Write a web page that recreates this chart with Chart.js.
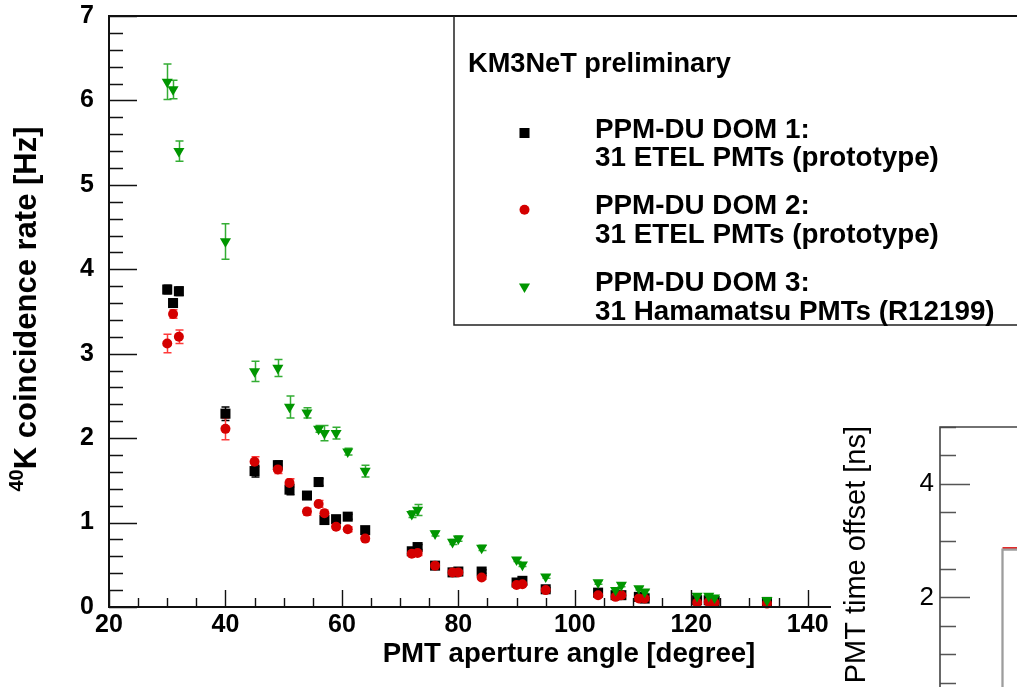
<!DOCTYPE html>
<html>
<head>
<meta charset="utf-8">
<title>40K coincidence rate vs PMT aperture angle</title>
<script src="https://cdn.jsdelivr.net/npm/chart.js@4.4.1/dist/chart.umd.min.js"></script>
<style>
  html, body { margin: 0; padding: 0; background: #fff; }
  body { width: 1017px; height: 687px; overflow: hidden; position: relative; }
  canvas { position: absolute; left: 0; top: 0; }
</style>
</head>
<body>
<canvas id="rateChart" width="1017" height="687"></canvas>
<canvas id="offsetChart" width="1600" height="760"></canvas>
<script>
// PMT pair aperture angles [degree]
const apertureAngles = [30, 31, 32, 40, 45, 49, 51, 54, 56, 57, 59, 61, 64, 72, 73, 76, 79, 80, 84, 90, 91, 95, 104, 107, 108, 111, 112, 121, 123, 124, 133];

// DOM 1 - ETEL prototype PMTs
const dom1Rates = [3.76, 3.60, 3.74, 2.29, 1.61, 1.68, 1.39, 1.32, 1.48, 1.03, 1.04, 1.07, 0.91, 0.66, 0.71, 0.49, 0.41, 0.42, 0.42, 0.29, 0.31, 0.21, 0.17, 0.14, 0.14, 0.12, 0.10, 0.08, 0.08, 0.07, 0.06];
const dom1Errors = [0.05, 0.05, 0.05, 0.08, 0.07, 0.05, 0.06, 0.04, 0.04, 0.04, 0.03, 0.03, 0.03, 0.03, 0.03, 0.02, 0.02, 0.02, 0.02, 0.02, 0.02, 0.02, 0.01, 0.01, 0.01, 0.01, 0.01, 0.01, 0.01, 0.01, 0.01];

// DOM 2 - ETEL prototype PMTs
const dom2Rates = [3.12, 3.47, 3.20, 2.11, 1.72, 1.63, 1.47, 1.13, 1.22, 1.11, 0.95, 0.92, 0.81, 0.63, 0.64, 0.49, 0.41, 0.41, 0.35, 0.26, 0.27, 0.20, 0.14, 0.12, 0.14, 0.10, 0.10, 0.05, 0.06, 0.05, 0.04];
const dom2Errors = [0.11, 0.05, 0.08, 0.13, 0.06, 0.05, 0.05, 0.04, 0.04, 0.04, 0.03, 0.03, 0.03, 0.03, 0.03, 0.02, 0.02, 0.02, 0.02, 0.02, 0.02, 0.02, 0.01, 0.01, 0.01, 0.01, 0.01, 0.01, 0.01, 0.01, 0.01];

// DOM 3 - Hamamatsu R12199
const dom3Rates = [6.22, 6.13, 5.40, 4.33, 2.79, 2.83, 2.37, 2.30, 2.11, 2.06, 2.06, 1.84, 1.61, 1.10, 1.15, 0.87, 0.77, 0.81, 0.70, 0.56, 0.50, 0.36, 0.29, 0.20, 0.26, 0.22, 0.18, 0.13, 0.13, 0.11, 0.08];
const dom3Errors = [0.21, 0.11, 0.12, 0.21, 0.12, 0.10, 0.13, 0.06, 0.04, 0.09, 0.07, 0.04, 0.07, 0.04, 0.065, 0.03, 0.03, 0.03, 0.03, 0.02, 0.02, 0.02, 0.02, 0.02, 0.02, 0.02, 0.02, 0.01, 0.01, 0.01, 0.01];

// time offset panel (only its first bins show up here)
const offsetBinEdges = [3, 3, 4];
const offsetGrey = [0, 2.84, 2.84];
const offsetRedEdges = [3, 4];
const offsetRed = [2.87, 2.87];

const FONT = "'Liberation Sans', Arial, Helvetica, sans-serif";

function toPoints(xs, ys) {
    return xs.map((x, i) => ({ x: x, y: ys[i] }));
}

// no extra room for the outer tick labels, the layout padding decides the frame
function fixAxisBox(size) {
    return s => {
        if (s.isHorizontal()) s.height = size; else s.width = size;
        s.paddingTop = 0; s.paddingBottom = 0;
        s.paddingLeft = 0; s.paddingRight = 0;
    };
}

// error bars with small caps, drawn under the markers
const errorBars = {
    id: 'errorBars',
    beforeDatasetsDraw(chart, args, opts) {
        const ctx = chart.ctx;
        const yScale = chart.scales.y;
        ctx.save();
        ctx.lineWidth = opts.lineWidth;
        chart.data.datasets.forEach((ds, i) => {
            if (!ds.errors) return;
            const meta = chart.getDatasetMeta(i);
            ctx.strokeStyle = ds.errorColor;
            ctx.beginPath();
            meta.data.forEach((pt, j) => {
                const v = ds.data[j].y;
                const e = ds.errors[j];
                const top = yScale.getPixelForValue(v + e);
                const bot = yScale.getPixelForValue(v - e);
                const x = Math.round(pt.x) + 0.5;
                ctx.moveTo(x, top); ctx.lineTo(x, bot);
                ctx.moveTo(x - opts.cap, top); ctx.lineTo(x + opts.cap, top);
                ctx.moveTo(x - opts.cap, bot); ctx.lineTo(x + opts.cap, bot);
            });
            ctx.stroke();
        });
        ctx.restore();
    }
};

// ticks pointing into the frame, major + minor
const rootTicks = {
    id: 'rootTicks',
    afterDatasetsDraw(chart, args, opts) {
        const { ctx, chartArea } = chart;
        ctx.save();
        ctx.strokeStyle = opts.color;
        ctx.lineWidth = opts.lineWidth;
        ctx.beginPath();
        opts.axes.forEach(ax => {
            const scale = chart.scales[ax.id];
            const first = Math.ceil(scale.min / ax.minor - 1e-9);
            const last = Math.floor(scale.max / ax.minor + 1e-9);
            for (let k = first; k <= last; k++) {
                const v = k * ax.minor;
                const isMajor = Math.abs(v / ax.major - Math.round(v / ax.major)) < 1e-6;
                const len = isMajor ? ax.majorLen : ax.minorLen;
                const p = Math.round(scale.getPixelForValue(v)) + 0.5;
                if (scale.isHorizontal()) {
                    ctx.moveTo(p, chartArea.bottom);
                    ctx.lineTo(p, chartArea.bottom - len);
                } else {
                    ctx.moveTo(chartArea.left, p);
                    ctx.lineTo(chartArea.left + len, p);
                }
            }
        });
        ctx.stroke();
        ctx.restore();
    }
};

// frame: top line runs to the canvas edge, left axis, optional bottom axis
const rootFrame = {
    id: 'rootFrame',
    afterDatasetsDraw(chart, args, opts) {
        const { ctx, chartArea } = chart;
        ctx.save();
        ctx.strokeStyle = opts.color;
        ctx.lineWidth = opts.lineWidth;
        ctx.beginPath();
        ctx.moveTo(chart.width, chartArea.top);
        ctx.lineTo(chartArea.left, chartArea.top);
        ctx.lineTo(chartArea.left, chartArea.bottom);
        if (opts.bottom) ctx.lineTo(chartArea.right, chartArea.bottom);
        ctx.stroke();
        ctx.restore();
    }
};

// free text (axis titles), optionally rotated, made of runs for superscripts
const rootText = {
    id: 'rootText',
    afterDraw(chart, args, opts) {
        const ctx = chart.ctx;
        opts.items.forEach(item => {
            ctx.save();
            ctx.translate(item.x, item.y);
            if (item.rotate) ctx.rotate(item.rotate * Math.PI / 180);
            ctx.fillStyle = item.color || '#000';
            ctx.textAlign = 'left';
            ctx.textBaseline = 'alphabetic';
            let total = 0;
            item.runs.forEach(r => {
                ctx.font = (r.weight || 'normal') + ' ' + r.size + 'px ' + FONT;
                r.w = ctx.measureText(r.text).width;
                total += r.w;
            });
            let x = item.align === 'center' ? -total / 2 : item.align === 'right' ? -total : 0;
            item.runs.forEach(r => {
                ctx.font = (r.weight || 'normal') + ' ' + r.size + 'px ' + FONT;
                ctx.fillText(r.text, x, -(r.rise || 0));
                x += r.w;
            });
            ctx.restore();
        });
    }
};

// legend box in the upper right corner
const rootLegend = {
    id: 'rootLegend',
    afterDraw(chart, args, opts) {
        const ctx = chart.ctx;
        ctx.save();
        ctx.strokeStyle = opts.borderColor;
        ctx.lineWidth = opts.borderWidth;
        ctx.beginPath();
        ctx.moveTo(opts.left, opts.top);
        ctx.lineTo(opts.left, opts.bottom);
        ctx.lineTo(chart.width, opts.bottom);
        ctx.stroke();

        ctx.fillStyle = '#000';
        ctx.textAlign = 'left';
        ctx.textBaseline = 'alphabetic';
        ctx.font = 'bold ' + opts.headerSize + 'px ' + FONT;
        ctx.fillText(opts.header, opts.headerX, opts.headerY);

        ctx.font = 'bold ' + opts.fontSize + 'px ' + FONT;
        chart.data.datasets.forEach((ds, i) => {
            const y0 = opts.firstRowY + i * opts.rowStep;
            ctx.fillStyle = ds.backgroundColor;
            Chart.helpers.drawPoint(ctx, {
                pointStyle: ds.pointStyle,
                radius: ds.pointRadius,
                rotation: ds.pointRotation || 0,
                borderWidth: 0
            }, opts.markerX, y0 + opts.markerDy);
            ctx.fillStyle = '#000';
            ctx.fillText(ds.label, opts.textX, y0);
            ctx.fillText(ds.caption, opts.textX, y0 + opts.lineStep);
        });
        ctx.restore();
    }
};

const clipRight = { left: 20, top: 20, right: 0, bottom: 20 };

const rateChart = new Chart(document.getElementById('rateChart').getContext('2d'), {
    type: 'scatter',
    data: {
        datasets: [{
            label: 'PPM-DU DOM 1:',
            caption: '31 ETEL PMTs (prototype)',
            data: toPoints(apertureAngles, dom1Rates),
            errors: dom1Errors,
            errorColor: '#000000',
            pointStyle: 'rect',
            pointRadius: 7.1,
            pointBorderWidth: 0,
            backgroundColor: '#000000',
            borderColor: '#000000',
            clip: clipRight,
            order: 2
        }, {
            label: 'PPM-DU DOM 2:',
            caption: '31 ETEL PMTs (prototype)',
            data: toPoints(apertureAngles, dom2Rates),
            errors: dom2Errors,
            errorColor: '#ff3a3a',
            pointStyle: 'circle',
            pointRadius: 5,
            pointBorderWidth: 0,
            backgroundColor: '#d40000',
            borderColor: '#d40000',
            clip: clipRight,
            order: 1
        }, {
            label: 'PPM-DU DOM 3:',
            caption: '31 Hamamatsu PMTs (R12199)',
            data: toPoints(apertureAngles, dom3Rates),
            errors: dom3Errors,
            errorColor: '#34ad34',
            pointStyle: 'triangle',
            pointRotation: 180,
            pointRadius: 6.4,
            pointBorderWidth: 0,
            backgroundColor: '#009600',
            borderColor: '#009600',
            clip: clipRight,
            order: 0
        }]
    },
    options: {
        responsive: false,
        animation: false,
        events: [],
        layout: { padding: { left: 0, top: 16, right: 186, bottom: 0 } },
        scales: {
            x: {
                type: 'linear',
                min: 20,
                max: 144,
                grid: { display: false, drawTicks: false },
                border: { display: false },
                ticks: {
                    stepSize: 20,
                    includeBounds: false,
                    padding: 3,
                    maxRotation: 0,
                    autoSkip: false,
                    color: '#000',
                    font: { family: FONT, size: 25, weight: 'bold' }
                },
                afterFit: fixAxisBox(80)
            },
            y: {
                type: 'linear',
                min: 0,
                max: 7,
                grid: { display: false, drawTicks: false },
                border: { display: false },
                ticks: {
                    stepSize: 1,
                    includeBounds: false,
                    padding: 15,
                    color: '#000',
                    font: { family: FONT, size: 25, weight: 'bold' }
                },
                afterFit: fixAxisBox(109)
            }
        },
        plugins: {
            legend: { display: false },
            tooltip: { enabled: false },
            errorBars: { lineWidth: 1.5, cap: 4 },
            rootTicks: {
                color: '#111',
                lineWidth: 1.4,
                axes: [
                    { id: 'x', major: 20, minor: 5, majorLen: 17, minorLen: 9 },
                    { id: 'y', major: 1, minor: 0.2, majorLen: 28, minorLen: 14 }
                ]
            },
            rootFrame: { color: '#111', lineWidth: 2, bottom: true },
            rootText: {
                items: [{
                    x: 36, y: 309, rotate: -90, align: 'center',
                    runs: [
                        { text: '40', size: 20, weight: 'bold', rise: 13 },
                        { text: 'K coincidence rate [Hz]', size: 31, weight: 'bold' }
                    ]
                }, {
                    x: 569, y: 662, align: 'center',
                    runs: [{ text: 'PMT aperture angle [degree]', size: 27.6, weight: 'bold' }]
                }]
            },
            rootLegend: {
                left: 454, top: 16, bottom: 325,
                borderColor: '#222', borderWidth: 1.5,
                header: 'KM3NeT preliminary', headerSize: 27.2, headerX: 468, headerY: 72,
                fontSize: 27.8, markerX: 524.5, markerDy: -4.5, textX: 595,
                firstRowY: 137.5, rowStep: 76.8, lineStep: 28.4
            }
        }
    },
    plugins: [errorBars, rootTicks, rootFrame, rootText, rootLegend]
});

const offsetChart = new Chart(document.getElementById('offsetChart').getContext('2d'), {
    type: 'scatter',
    data: {
        datasets: [{
            label: 'offset',
            data: toPoints(offsetBinEdges, offsetGrey),
            showLine: true,
            borderColor: '#9d9d9d',
            borderWidth: 2.3,
            pointRadius: 0
        }, {
            label: 'offset fit',
            data: toPoints(offsetRedEdges, offsetRed),
            showLine: true,
            borderColor: '#e02a2a',
            borderWidth: 2,
            pointRadius: 0
        }]
    },
    options: {
        responsive: false,
        animation: false,
        events: [],
        layout: { padding: { left: 0, top: 427, right: 14.2, bottom: 49 } },
        scales: {
            x: { type: 'linear', min: 0, max: 31, display: false },
            y: {
                type: 'linear',
                min: 0,
                max: 5,
                grid: { display: false, drawTicks: false },
                border: { display: false },
                ticks: {
                    stepSize: 2,
                    includeBounds: false,
                    padding: 6,
                    color: '#000',
                    font: { family: FONT, size: 26 }
                },
                afterFit: fixAxisBox(940)
            }
        },
        plugins: {
            legend: { display: false },
            tooltip: { enabled: false },
            rootTicks: {
                color: '#555',
                lineWidth: 1.4,
                axes: [{ id: 'y', major: 2, minor: 0.5, majorLen: 30, minorLen: 16 }]
            },
            rootFrame: { color: '#444', lineWidth: 1.6, bottom: false },
            rootText: {
                items: [{
                    x: 865, y: 426, rotate: -90, align: 'right',
                    runs: [{ text: 'PMT time offset [ns]', size: 29 }]
                }]
            }
        }
    },
    plugins: [rootTicks, rootFrame, rootText]
});
</script>
</body>
</html>
